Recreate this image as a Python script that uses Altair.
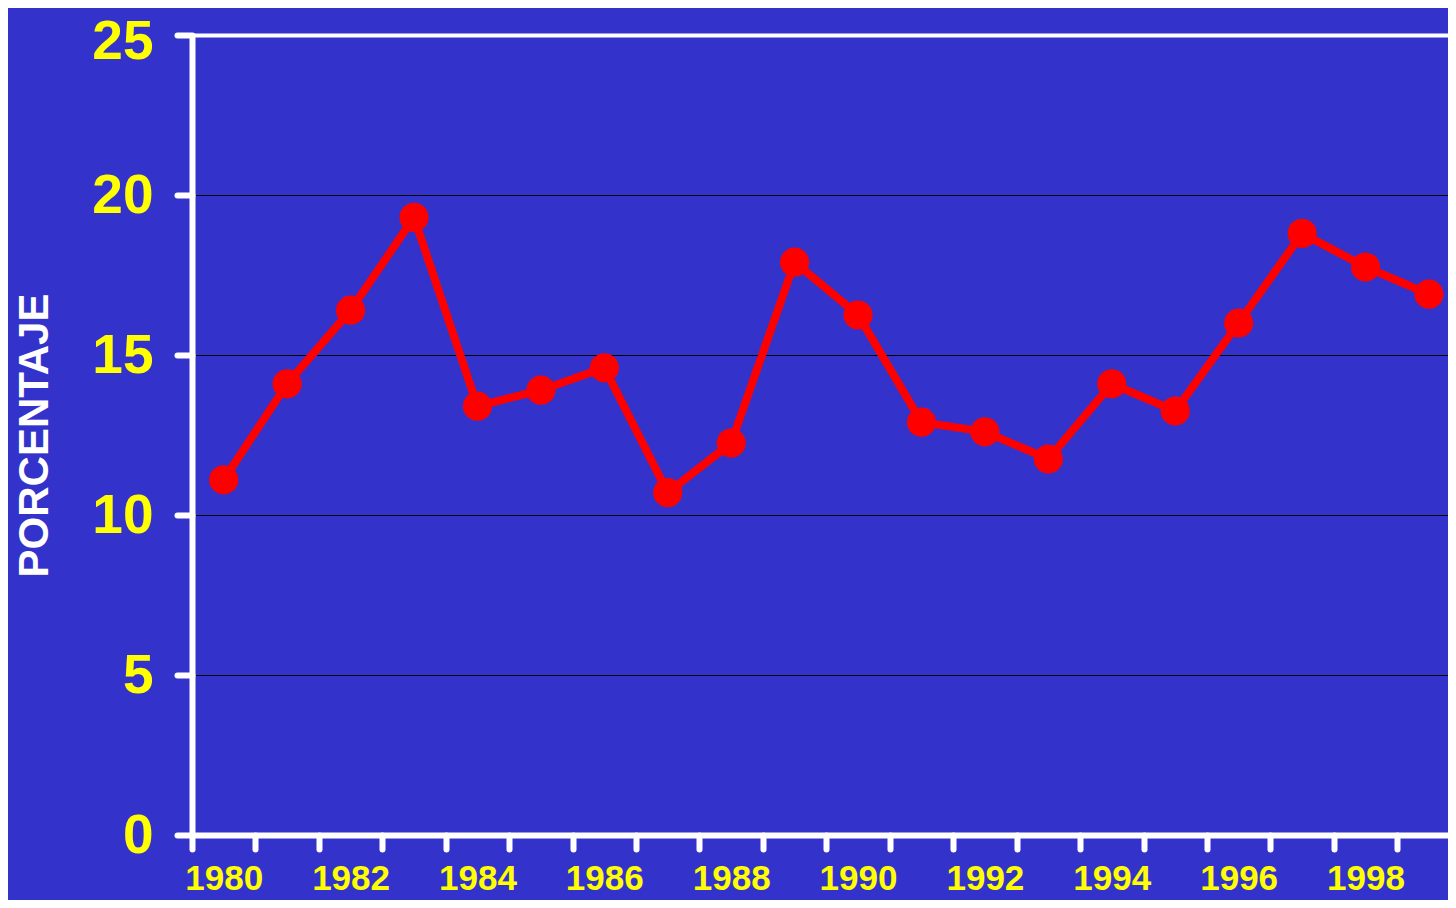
import altair as alt
import pandas as pd

years = list(range(1980, 2000))
values = [11.1, 14.1, 16.4, 19.3, 13.4, 13.9, 14.6, 10.7, 12.25, 17.9,
          16.25, 12.9, 12.6, 11.75, 14.1, 13.25, 16.0, 18.8, 17.75, 16.9]
y_ticks = [0, 5, 10, 15, 20, 25]
x_tick_values = [y - 0.5 for y in years]

df = pd.DataFrame({"year": years, "pct": values})

BG = "#3333CC"
FONT = "Liberation Sans"

x = alt.X(
    "year:Q",
    scale=alt.Scale(domain=[1979.5, 1999.30], nice=False, zero=False),
    axis=alt.Axis(
        values=x_tick_values,
        labelExpr="(datum.value + 0.5) % 2 == 0 ? format(datum.value + 0.5, 'd') : ''",
        labelOffset=31.7,
        labelFlush=False,
        labelOverlap=False,
        labelFont=FONT,
        labelFontSize=35,
        labelFontWeight="bold",
        labelColor="#FFFF00",
        labelPadding=12,
        domainColor="white",
        domainWidth=6,
        tickColor="white",
        tickWidth=6,
        tickSize=14,
        tickCap="round",
        grid=False,
        title=None,
    ),
)

y = alt.Y(
    "pct:Q",
    scale=alt.Scale(domain=[0, 25], nice=False),
    axis=alt.Axis(
        values=y_ticks,
        format="d",
        labelFont=FONT,
        labelFontSize=55,
        labelFontWeight="bold",
        labelColor="#FFFF00",
        labelPadding=24,
        labelOffset={"condition": {"test": "datum.value === 25", "value": 6}, "value": 0},
        domainColor="white",
        domainWidth=6,
        tickColor="white",
        tickWidth=6,
        tickSize=15,
        tickCap="round",
        grid=True,
        gridColor={"condition": {"test": "datum.value === 25", "value": "white"}, "value": "black"},
        gridWidth={"condition": {"test": "datum.value === 25", "value": 4}, "value": 1.2},
        title="PORCENTAJE",
        titleFont=FONT,
        titleFontSize=42,
        titleFontWeight="bold",
        titleColor="white",
        titlePadding=35,
    ),
)

base = alt.Chart(df).encode(x=x, y=y)
line = base.mark_line(color="#FF0000", strokeWidth=8)
pts = base.mark_circle(color="#FF0000", opacity=1, size=850)

chart = (
    alt.layer(line, pts)
    .properties(
        width=1256,
        height=800,
        background=BG,
        padding={"left": 184, "top": 27, "right": 0, "bottom": 65},
        autosize=alt.AutoSizeParams(type="none"),
    )
    .configure_view(strokeWidth=0)
)

chart.save("out.html", embed_options={"renderer": "svg", "actions": False})
